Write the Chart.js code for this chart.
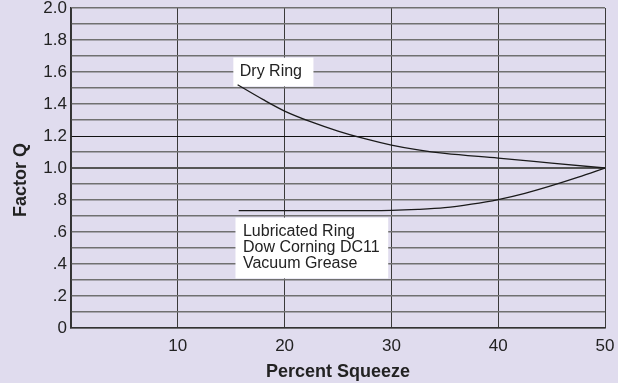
<!DOCTYPE html>
<html>
<head>
<meta charset="utf-8">
<script src="https://cdn.jsdelivr.net/npm/chart.js@4.4.1/dist/chart.umd.min.js"></script>
<style>
  html, body { margin: 0; padding: 0; background: #e0dcee; }
  #wrap { width: 618px; height: 383px; position: relative; }
</style>
</head>
<body>
<div id="wrap"><canvas id="chart"></canvas></div>
<script>
const dryX = [15.6, 18, 20, 22.5, 25, 27.5, 30, 32.5, 35, 40, 45, 50];
const dryY = [1.52, 1.427, 1.356, 1.288, 1.231, 1.183, 1.143, 1.113, 1.091, 1.062, 1.031, 1.0];

const lubX = [15.7, 20, 25, 30, 32.5, 35, 37.5, 40, 42.5, 45, 47.5, 50];
const lubY = [0.733, 0.733, 0.733, 0.735, 0.741, 0.752, 0.774, 0.803, 0.842, 0.890, 0.943, 1.0];

const dryLabel = ['Dry Ring'];
const lubLabel = ['Lubricated Ring', 'Dow Corning DC11', 'Vacuum Grease'];

// label boxes in data units: [xMin, xMax, yMin, yMax, textX, textY]
const dryBox = [15.2, 22.7, 1.51, 1.69, 15.8, 1.6];
const lubBox = [15.4, 29.7, 0.31, 0.69, 16.1, 0.6];

const FONT = "'Liberation Sans', Arial, sans-serif";

function toPoints(xs, ys) {
  return xs.map((x, i) => ({ x, y: ys[i] }));
}

function yTickLabel(value) {
  const tenths = Math.round(value * 10);
  if (tenths % 2 !== 0) {
    return '';
  }
  if (tenths === 0) {
    return '0';
  }
  if (tenths < 10) {
    return '.' + tenths;
  }
  return (tenths / 10).toFixed(1);
}

const labelBoxes = {
  id: 'labelBoxes',
  beforeDatasetsDraw(chart) {
    const { ctx, scales: { x, y } } = chart;
    const drawBox = (box, lines) => {
      const left = x.getPixelForValue(box[0]);
      const right = x.getPixelForValue(box[1]);
      const top = y.getPixelForValue(box[3]);
      const bottom = y.getPixelForValue(box[2]);
      ctx.save();
      ctx.fillStyle = '#ffffff';
      ctx.fillRect(left, top, right - left, bottom - top);
      ctx.fillStyle = '#222222';
      ctx.font = '16px ' + FONT;
      ctx.textAlign = 'left';
      ctx.textBaseline = 'middle';
      const tx = x.getPixelForValue(box[4]);
      const ty = y.getPixelForValue(box[5]);
      lines.forEach((line, i) => {
        ctx.fillText(line, tx, ty + i * 16);
      });
      ctx.restore();
    };
    drawBox(dryBox, dryLabel);
    drawBox(lubBox, lubLabel);
  },
  afterDraw(chart) {
    const { ctx } = chart;
    ctx.save();
    ctx.translate(21, 180);
    ctx.rotate(-Math.PI / 2);
    ctx.fillStyle = '#222222';
    ctx.font = 'bold 18px ' + FONT;
    ctx.textAlign = 'center';
    ctx.textBaseline = 'middle';
    ctx.fillText('Factor Q', 0, 0);
    ctx.restore();
  },
};

const lineStyle = {
  borderColor: '#1a1a1a',
  borderWidth: 1.3,
  pointRadius: 0,
  fill: false,
  cubicInterpolationMode: 'monotone',
  showLine: true,
};

new Chart(document.getElementById('chart'), {
  type: 'scatter',
  data: {
    datasets: [
      { label: 'Dry Ring', data: toPoints(dryX, dryY), ...lineStyle },
      { label: 'Lubricated Ring', data: toPoints(lubX, lubY), ...lineStyle },
    ],
  },
  options: {
    responsive: true,
    maintainAspectRatio: false,
    animation: false,
    layout: {
      padding: { top: 8, right: 13, left: 0, bottom: 0 },
    },
    plugins: {
      legend: { display: false },
      tooltip: { enabled: false },
    },
    scales: {
      x: {
        type: 'linear',
        min: 0,
        max: 50,
        afterFit(scale) {
          scale.height = 55;
          scale.paddingLeft = 0;
          scale.paddingRight = 0;
        },
        ticks: {
          stepSize: 10,
          padding: 8,
          color: '#222222',
          font: { family: FONT, size: 17 },
          callback(value) {
            return value === 0 ? '' : String(value);
          },
        },
        grid: {
          drawTicks: false,
          color: '#3a3a3a',
          lineWidth: 1,
        },
        border: { color: '#333333', width: 1.5 },
        title: {
          display: true,
          text: 'Percent Squeeze',
          color: '#222222',
          font: { family: FONT, size: 18, weight: 'bold' },
          padding: { top: 0, bottom: 0 },
        },
      },
      y: {
        min: 0,
        max: 2,
        afterFit(scale) {
          scale.width = 71;
          scale.paddingTop = 0;
          scale.paddingBottom = 0;
        },
        ticks: {
          stepSize: 0.1,
          padding: 4,
          autoSkip: false,
          color: '#222222',
          font: { family: FONT, size: 17 },
          callback(value) {
            return yTickLabel(value);
          },
        },
        grid: {
          drawTicks: false,
          color(context) {
            const tenths = Math.round(context.tick.value * 10);
            if (tenths === 12) return '#111111';
            if (tenths === 10) return '#555555';
            return '#707070';
          },
          lineWidth(context) {
            const tenths = Math.round(context.tick.value * 10);
            if (tenths === 12) return 1;
            if (tenths === 10) return 2;
            return 1.5;
          },
        },
        border: { color: '#333333', width: 1.5 },
      },
    },
  },
  plugins: [labelBoxes],
});
</script>
</body>
</html>
